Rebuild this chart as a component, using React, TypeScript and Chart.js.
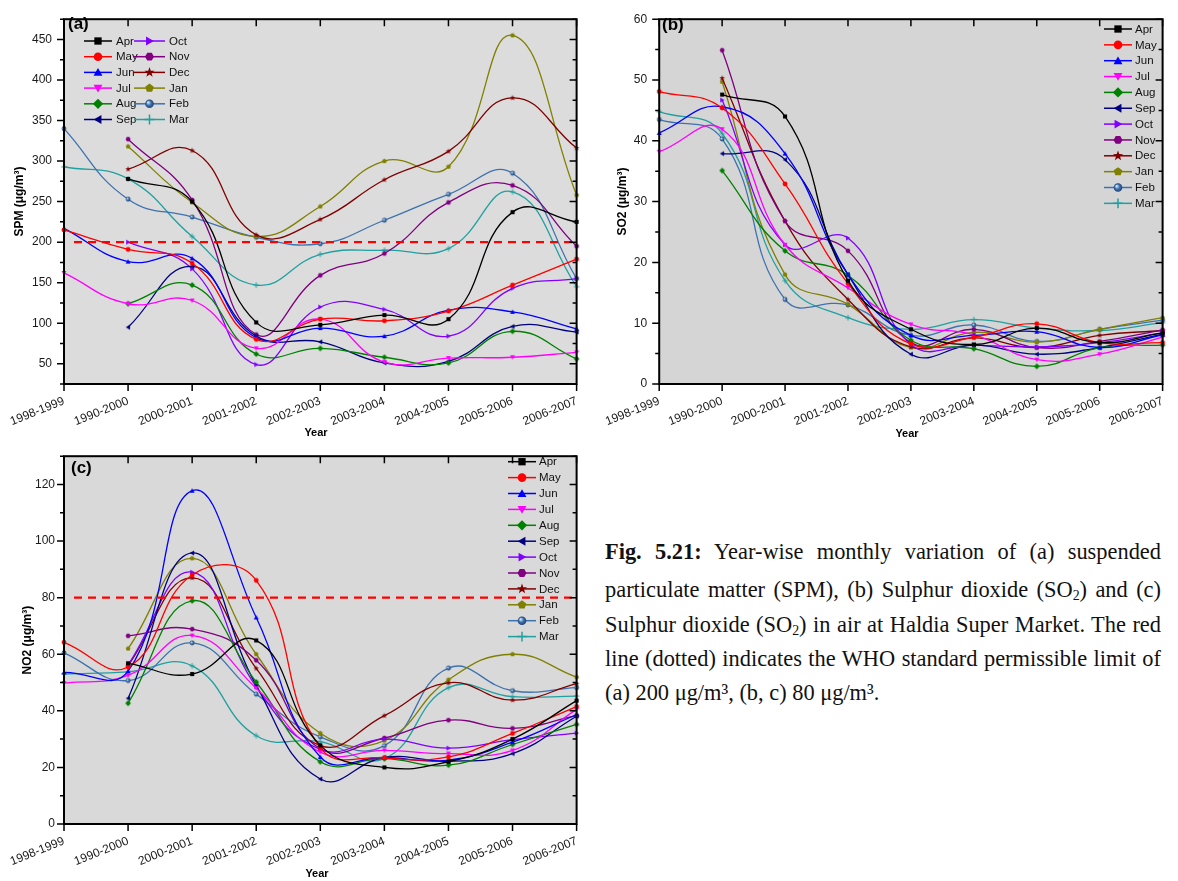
import React, { useEffect, useRef } from 'react';
import { Chart, registerables } from 'chart.js';

Chart.register(...registerables);

// Sampling years along the x axis
const YEARS = ['1998-1999', '1990-2000', '2000-2001', '2001-2002', '2002-2003', '2003-2004', '2004-2005', '2005-2006', '2006-2007'];
const MONTHS = ['Apr', 'May', 'Jun', 'Jul', 'Aug', 'Sep', 'Oct', 'Nov', 'Dec', 'Jan', 'Feb', 'Mar'];
const MONTH_COLORS = ['#000000', '#FF0000', '#0000FF', '#FF00FF', '#008000', '#000080', '#8000FF', '#800080', '#800000', '#808000', '#3D72B0', '#20A0A0'];
const MONTH_MARKERS = ['square', 'circle', 'up', 'down', 'diamond', 'left', 'right', 'hexagon', 'star', 'pentagon', 'sphere', 'plus'];

// (a) Suspended particulate matter, µg/m³
const SPM_APR = [null, 278, 250, 101, 98, 110, 105, 237, 225];
const SPM_MAY = [215, 191, 174, 80, 105, 103, 115, 147, 179];
const SPM_JUN = [217, 176, 180, 82, 94, 84, 116, 114, 93];
const SPM_JUL = [162, 124, 128, 69, 105, 52, 57, 58, 64];
const SPM_AUG = [null, 124, 147, 62, 69, 58, 51, 90, 56];
const SPM_SEP = [null, 95, 170, 84, 77, 51, 53, 96, 89];
const SPM_OCT = [null, 200, 167, 49, 120, 117, 84, 143, 155];
const SPM_NOV = [null, 327, 252, 86, 159, 186, 249, 270, 195];
const SPM_DEC = [null, 290, 313, 209, 228, 277, 312, 378, 316];
const SPM_JAN = [null, 318, 249, 207, 244, 300, 293, 455, 258];
const SPM_FEB = [340, 253, 231, 206, 198, 227, 259, 285, 155];
const SPM_MAR = [293, 278, 207, 147, 185, 190, 192, 262, 145];

// (b) Sulphur dioxide, µg/m³
const SO2_APR = [null, 47.6, 44.0, 17.0, 9.0, 6.5, 9.2, 6.8, 8.4];
const SO2_MAY = [48.1, 45.4, 32.9, 16.5, 6.6, 7.7, 9.9, 6.8, 6.8];
const SO2_JUN = [41.3, 45.6, 37.9, 18.0, 8.0, 8.0, 8.6, 6.0, 8.1];
const SO2_JUL = [38.2, 41.9, 22.9, 15.8, 9.8, 8.1, 4.0, 4.9, 7.7];
const SO2_AUG = [null, 35.1, 21.9, 17.9, 7.2, 5.8, 2.9, 6.0, 6.4];
const SO2_SEP = [null, 37.9, 36.9, 18.0, 4.9, 6.4, 4.9, 6.0, 8.2];
const SO2_OCT = [null, 46.7, 22.9, 24.0, 6.5, 6.4, 6.1, 6.8, 8.4];
const SO2_NOV = [null, 54.9, 26.8, 21.9, 6.8, 9.0, 6.0, 7.0, 8.9];
const SO2_DEC = [null, 50.3, 26.8, 13.9, 6.1, 7.6, 6.0, 8.0, 8.8];
const SO2_JAN = [null, 49.7, 18.0, 13.1, 6.0, 8.5, 6.9, 9.0, 10.9];
const SO2_FEB = [43.5, 40.3, 13.9, 13.0, 8.0, 9.7, 7.0, 9.0, 10.5];
const SO2_MAR = [44.8, 41.2, 17.0, 10.9, 9.0, 10.6, 9.2, 8.8, 10.1];

// (c) Nitrogen dioxide, µg/m³
const NO2_APR = [null, 56.8, 53.0, 64.9, 27.8, 20.0, 22.0, 30.0, 43.6];
const NO2_MAY = [64.2, 55.5, 88.0, 86.1, 27.0, 23.4, 23.7, 32.0, 41.5];
const NO2_JUN = [53.6, 54.0, 117.8, 73.0, 23.7, 23.5, 22.6, 28.9, 38.7];
const NO2_JUL = [49.8, 52.5, 66.6, 48.0, 25.4, 26.0, 24.9, 26.0, 40.5];
const NO2_AUG = [null, 42.7, 78.9, 50.2, 22.0, 23.1, 20.8, 28.1, 35.2];
const NO2_SEP = [null, 44.4, 95.8, 49.0, 15.9, 23.5, 22.2, 24.9, 38.1];
const NO2_OCT = [null, 56.3, 89.0, 48.5, 26.4, 30.0, 26.8, 29.8, 32.1];
const NO2_NOV = [null, 66.5, 68.9, 57.9, 26.6, 30.4, 36.7, 33.8, 38.3];
const NO2_DEC = [null, 56.0, 87.0, 55.0, 27.7, 38.3, 49.9, 43.8, 49.6];
const NO2_JAN = [null, 62.0, 93.9, 60.0, 32.1, 29.5, 51.0, 60.0, 51.9];
const NO2_FEB = [60.5, 50.7, 64.0, 45.9, 30.8, 27.7, 55.1, 47.1, 48.2];
const NO2_MAR = [53.0, 53.8, 55.9, 31.2, 29.1, 23.1, 48.2, 45.0, 45.2];

// WHO permissible limits drawn as dashed lines
const SPM_LIMIT = 200;
const NO2_LIMIT = 80;

const SPM = [SPM_APR, SPM_MAY, SPM_JUN, SPM_JUL, SPM_AUG, SPM_SEP, SPM_OCT, SPM_NOV, SPM_DEC, SPM_JAN, SPM_FEB, SPM_MAR];
const SO2 = [SO2_APR, SO2_MAY, SO2_JUN, SO2_JUL, SO2_AUG, SO2_SEP, SO2_OCT, SO2_NOV, SO2_DEC, SO2_JAN, SO2_FEB, SO2_MAR];
const NO2 = [NO2_APR, NO2_MAY, NO2_JUN, NO2_JUL, NO2_AUG, NO2_SEP, NO2_OCT, NO2_NOV, NO2_DEC, NO2_JAN, NO2_FEB, NO2_MAR];

const SANS = "'Liberation Sans', Arial, Helvetica, sans-serif";
const SERIF = "'Liberation Serif', 'Times New Roman', Times, serif";

function polygonPath(ctx: CanvasRenderingContext2D, cx: number, cy: number, r: number, n: number, start: number) {
  ctx.moveTo(cx + r * Math.cos(start), cy + r * Math.sin(start));
  for (let k = 1; k < n; k++) {
    const a = start + (k * 2 * Math.PI) / n;
    ctx.lineTo(cx + r * Math.cos(a), cy + r * Math.sin(a));
  }
  ctx.closePath();
}

function drawMarker(ctx: CanvasRenderingContext2D, shape: string, cx: number, cy: number, r: number, color: string) {
  ctx.save();
  ctx.fillStyle = color;
  ctx.strokeStyle = color;
  ctx.lineWidth = Math.max(1, r * 0.35);
  ctx.beginPath();
  if (shape === 'square') ctx.rect(cx - r * 0.85, cy - r * 0.85, r * 1.7, r * 1.7);
  else if (shape === 'circle') ctx.arc(cx, cy, r, 0, Math.PI * 2);
  else if (shape === 'up') polygonPath(ctx, cx, cy + r * 0.2, r * 1.2, 3, -Math.PI / 2);
  else if (shape === 'down') polygonPath(ctx, cx, cy - r * 0.2, r * 1.2, 3, Math.PI / 2);
  else if (shape === 'left') polygonPath(ctx, cx + r * 0.2, cy, r * 1.2, 3, Math.PI);
  else if (shape === 'right') polygonPath(ctx, cx - r * 0.2, cy, r * 1.2, 3, 0);
  else if (shape === 'diamond') polygonPath(ctx, cx, cy, r * 1.2, 4, -Math.PI / 2);
  else if (shape === 'hexagon') polygonPath(ctx, cx, cy, r * 1.05, 6, 0);
  else if (shape === 'pentagon') polygonPath(ctx, cx, cy, r * 1.05, 5, -Math.PI / 2);
  else if (shape === 'star') {
    for (let k = 0; k < 10; k++) {
      const rad = k % 2 ? r * 0.5 : r * 1.25;
      const a = -Math.PI / 2 + (k * Math.PI) / 5;
      const px = cx + rad * Math.cos(a);
      const py = cy + rad * Math.sin(a);
      if (k === 0) ctx.moveTo(px, py);
      else ctx.lineTo(px, py);
    }
    ctx.closePath();
  } else if (shape === 'sphere') {
    const g = ctx.createRadialGradient(cx - r * 0.35, cy - r * 0.35, r * 0.1, cx, cy, r);
    g.addColorStop(0, '#D6E6F8');
    g.addColorStop(0.5, color);
    g.addColorStop(1, '#1F426F');
    ctx.fillStyle = g;
    ctx.arc(cx, cy, r, 0, Math.PI * 2);
  } else if (shape === 'plus') {
    ctx.moveTo(cx - r * 1.15, cy);
    ctx.lineTo(cx + r * 1.15, cy);
    ctx.moveTo(cx, cy - r * 1.15);
    ctx.lineTo(cx, cy + r * 1.15);
  }
  if (shape === 'plus') ctx.stroke();
  else ctx.fill();
  ctx.restore();
}

function markerImage(shape: string, color: string, r: number) {
  const c = document.createElement('canvas');
  const s = Math.ceil(r * 3) + 2;
  c.width = s;
  c.height = s;
  const ctx = c.getContext('2d') as CanvasRenderingContext2D;
  drawMarker(ctx, shape, s / 2, s / 2, r, color);
  return c;
}

type LegendItem = { x0: number; x1: number; y: number; tx: number };

type PanelSpec = {
  left: number;
  top: number;
  width: number;
  height: number;
  padTop: number;
  padRight: number;
  yWidth: number;
  xHeight: number;
  yMin: number;
  yMax: number;
  yMajor: number;
  yMinor: number;
  yTitle: string;
  yTitlePad: number;
  yTickPad: number;
  series: (number | null)[][];
  tag: string;
  tagX: number;
  tagY: number;
  yearX: number;
  yearY: number;
  limit: number | null;
  bg: string;
  legend: LegendItem[];
};

function isMultiple(v: number, step: number) {
  const q = v / step;
  return Math.abs(q - Math.round(q)) < 1e-6;
}

function panelDecor(spec: PanelSpec) {
  return {
    id: 'panelDecor',
    beforeDatasetsDraw(chart: any) {
      const { ctx, chartArea: a } = chart;
      ctx.save();
      ctx.fillStyle = spec.bg;
      ctx.fillRect(a.left, a.top, a.right - a.left, a.bottom - a.top);
      ctx.restore();
    },
    afterDatasetsDraw(chart: any) {
      const { ctx, chartArea: a, scales } = chart;
      const xs = scales.x;
      const ys = scales.y;
      ctx.save();

      if (spec.limit !== null) {
        const py = ys.getPixelForValue(spec.limit);
        ctx.strokeStyle = '#FF0000';
        ctx.lineWidth = 2.2;
        ctx.setLineDash([8, 6]);
        ctx.beginPath();
        ctx.moveTo(a.left + 10, py);
        ctx.lineTo(a.right - 2, py);
        ctx.stroke();
        ctx.setLineDash([]);
      }

      // legend: line segment, marker and month name
      ctx.font = `11.5px ${SANS}`;
      ctx.textBaseline = 'middle';
      ctx.textAlign = 'left';
      spec.legend.forEach((it, i) => {
        const color = MONTH_COLORS[i];
        ctx.strokeStyle = color;
        ctx.lineWidth = 1.5;
        ctx.beginPath();
        ctx.moveTo(it.x0, it.y);
        ctx.lineTo(it.x1, it.y);
        ctx.stroke();
        drawMarker(ctx, MONTH_MARKERS[i], (it.x0 + it.x1) / 2, it.y, 4.3, color);
        ctx.fillStyle = '#111';
        ctx.fillText(MONTHS[i], it.tx, it.y + 0.5);
      });

      // tick marks: outward on left/bottom, inward on right/top
      ctx.strokeStyle = '#000';
      ctx.lineWidth = 1.5;
      ctx.beginPath();
      for (let v = spec.yMin; v <= spec.yMax + 1e-6; v += spec.yMinor) {
        const py = ys.getPixelForValue(v);
        const len = isMultiple(v, spec.yMajor) ? 7 : 4;
        ctx.moveTo(a.left - len, py);
        ctx.lineTo(a.left, py);
        ctx.moveTo(a.right, py);
        ctx.lineTo(a.right - len, py);
      }
      YEARS.forEach((_, i) => {
        const px = xs.getPixelForValue(i);
        ctx.moveTo(px, a.bottom);
        ctx.lineTo(px, a.bottom + 7);
        ctx.moveTo(px, a.top);
        ctx.lineTo(px, a.top + 7);
      });
      ctx.stroke();
      ctx.lineWidth = 2;
      ctx.strokeRect(a.left, a.top, a.right - a.left, a.bottom - a.top);

      ctx.fillStyle = '#000';
      ctx.font = `bold 17px ${SANS}`;
      ctx.textAlign = 'left';
      ctx.fillText(spec.tag, spec.tagX, spec.tagY);
      ctx.font = `bold 11px ${SANS}`;
      ctx.textAlign = 'center';
      ctx.fillText('Year', spec.yearX, spec.yearY);
      ctx.restore();
    },
  };
}

function Panel({ spec }: { spec: PanelSpec }) {
  const ref = useRef<HTMLCanvasElement>(null);
  useEffect(() => {
    const canvas = ref.current;
    if (!canvas) return;
    const chart = new Chart(canvas, {
      type: 'line',
      data: {
        labels: YEARS,
        datasets: MONTHS.map((m, i) => ({
          label: m,
          data: spec.series[i],
          borderColor: MONTH_COLORS[i],
          backgroundColor: MONTH_COLORS[i],
          borderWidth: 1.3,
          tension: 0.45,
          fill: false,
          pointStyle: markerImage(MONTH_MARKERS[i], MONTH_COLORS[i], 2.4),
          pointRadius: 3,
          pointHoverRadius: 3,
        })),
      },
      options: {
        animation: false,
        responsive: false,
        maintainAspectRatio: false,
        events: [],
        layout: { padding: { left: 0, top: spec.padTop, right: spec.padRight, bottom: 0 } },
        plugins: { legend: { display: false }, tooltip: { enabled: false } },
        scales: {
          x: {
            type: 'category',
            offset: false,
            grid: { display: false, drawTicks: false },
            border: { display: false },
            ticks: {
              autoSkip: false,
              minRotation: 22,
              maxRotation: 22,
              padding: 10,
              color: '#1a1a1a',
              font: { family: SANS, size: 12 },
            },
            afterFit: (s: any) => {
              s.height = spec.xHeight;
            },
          },
          y: {
            type: 'linear',
            min: spec.yMin,
            max: spec.yMax,
            grid: { display: false, drawTicks: false },
            border: { display: false },
            ticks: {
              stepSize: spec.yMinor,
              padding: spec.yTickPad,
              color: '#1a1a1a',
              font: { family: SANS, size: 12 },
              callback: (v: any) => (isMultiple(Number(v), spec.yMajor) ? String(v) : ''),
            },
            title: {
              display: true,
              text: spec.yTitle,
              color: '#000',
              font: { family: SANS, size: 12, weight: 'bold' },
              padding: { top: spec.yTitlePad, bottom: 0 },
            },
            afterFit: (s: any) => {
              s.width = spec.yWidth;
            },
          },
        },
      },
      plugins: [panelDecor(spec)],
    } as any);
    return () => chart.destroy();
  }, [spec]);
  return (
    <canvas
      ref={ref}
      width={spec.width}
      height={spec.height}
      style={{ position: 'absolute', left: spec.left, top: spec.top, width: spec.width, height: spec.height }}
    />
  );
}

const LEGEND_A: LegendItem[] = MONTHS.map((_, i) => {
  const col = Math.floor(i / 6);
  const row = i % 6;
  return { x0: [84, 134][col], x1: [112, 165][col], y: 41 + row * 15.7, tx: [116, 169][col] };
});
const LEGEND_B: LegendItem[] = MONTHS.map((_, i) => ({ x0: 508, x1: 536, y: 29 + i * 15.85, tx: 539 }));
const LEGEND_C: LegendItem[] = MONTHS.map((_, i) => ({ x0: 508, x1: 536, y: 21.7 + i * 15.9, tx: 539 }));

const PANEL_A: PanelSpec = {
  left: 0, top: 0, width: 592, height: 442, padTop: 7, padRight: 10, yWidth: 64, xHeight: 58,
  yMin: 25, yMax: 475, yMajor: 50, yMinor: 25, yTitle: 'SPM (μg/m³)', yTitlePad: 12.8, yTickPad: 12,
  series: SPM, tag: '(a)', tagX: 68, tagY: 24.5, yearX: 316, yearY: 433, limit: SPM_LIMIT, bg: '#DCDCDC', legend: LEGEND_A,
};
const PANEL_B: PanelSpec = {
  left: 596, top: 0, width: 582, height: 442, padTop: 7, padRight: 4, yWidth: 61, xHeight: 58,
  yMin: 0, yMax: 60, yMajor: 10, yMinor: 5, yTitle: 'SO2 (μg/m³)', yTitlePad: 16.8, yTickPad: 12,
  series: SO2, tag: '(b)', tagX: 66, tagY: 25.5, yearX: 311, yearY: 433.5, limit: null, bg: '#D5D5D5', legend: LEGEND_B,
};
const PANEL_C: PanelSpec = {
  left: 0, top: 440, width: 592, height: 441, padTop: 7, padRight: 10, yWidth: 64, xHeight: 57,
  yMin: 0, yMax: 130, yMajor: 20, yMinor: 10, yTitle: 'NO2 (μg/m³)', yTitlePad: 20.8, yTickPad: 9,
  series: NO2, tag: '(c)', tagX: 71, tagY: 28.3, yearX: 317, yearY: 434, limit: NO2_LIMIT, bg: '#D9D9D9', legend: LEGEND_C,
};

const justified: React.CSSProperties = { textAlign: 'justify', textAlignLast: 'justify', whiteSpace: 'nowrap' as any };
const sub: React.CSSProperties = { fontSize: '0.62em', verticalAlign: '-0.22em', lineHeight: 0 };

function Caption() {
  return (
    <div
      style={{
        position: 'absolute',
        left: 605,
        top: 539,
        width: 556,
        fontFamily: SERIF,
        fontSize: 22.4,
        lineHeight: '34.3px',
        color: '#111',
      }}
    >
      <div style={{ ...justified, position: 'relative', top: -4 }}>
        <b>Fig. 5.21:</b> Year-wise monthly variation of (a) suspended
      </div>
      <div style={justified}>
        particulate matter (SPM), (b) Sulphur dioxide (SO<span style={sub}>2</span>) and (c)
      </div>
      <div style={justified}>
        Sulphur dioxide (SO<span style={sub}>2</span>) in air at Haldia Super Market. The red
      </div>
      <div style={justified}>line (dotted) indicates the WHO standard permissible limit of</div>
      <div>(a) 200 μg/m³, (b, c) 80 μg/m³.</div>
    </div>
  );
}

export default function App() {
  return (
    <div style={{ position: 'absolute', left: 0, top: 0, width: 1178, height: 881, background: '#fff', overflow: 'hidden' }}>
      <Panel spec={PANEL_A} />
      <Panel spec={PANEL_B} />
      <Panel spec={PANEL_C} />
      <Caption />
    </div>
  );
}
